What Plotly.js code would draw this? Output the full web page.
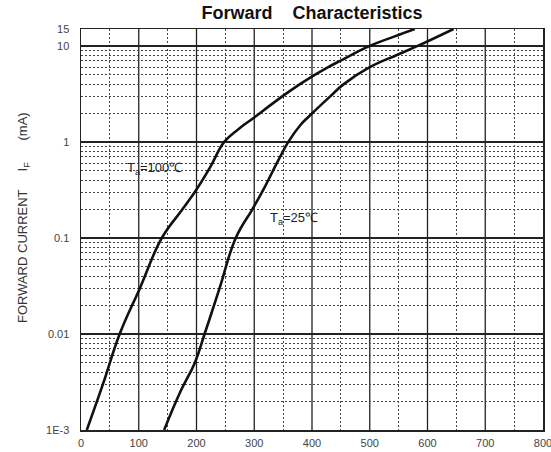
<!DOCTYPE html>
<html>
<head>
<meta charset="utf-8">
<script src="https://cdn.plot.ly/plotly-3.0.1.min.js"></script>
<style>html,body{margin:0;padding:0;background:#fff;}#chart{width:551px;height:452px;}</style>
</head>
<body>
<div id="chart"></div>
<script>
// Forward voltage (mV) and forward current (mA)
var v100 = [10, 38, 67, 102, 140, 176, 200, 224, 248, 272, 300, 335, 362, 390, 428, 449, 500, 542, 578];
var i100 = [0.001, 0.003, 0.01, 0.03, 0.1, 0.2, 0.32, 0.55, 1.0, 1.35, 1.8, 2.6, 3.4, 4.4, 6.0, 7.0, 10, 12.5, 15];
var v25 = [144, 172, 197, 214, 240, 268, 297, 316, 342, 359, 380, 395, 432, 455, 500, 546, 583, 645];
var i25 = [0.001, 0.0025, 0.005, 0.01, 0.03, 0.1, 0.2, 0.32, 0.65, 1.0, 1.5, 1.85, 3.0, 4.0, 6.0, 8.0, 10, 15];

var xTicks = [0, 100, 200, 300, 400, 500, 600, 700, 800];
var xMinor = [50, 150, 250, 350, 450, 550, 650, 750];
var yTickVals = [0.001, 0.01, 0.1, 1, 10, 15];
var yTickText = ['1E-3', '0.01', '0.1', '1', '10', '15'];
var minorMult = [2, 3, 4, 5, 6, 7, 8, 9];
var decades = [0.001, 0.01, 0.1, 1];

var labelText = ['T<sub>a</sub>=100\u2103', 'T<sub>a</sub>=25\u2103'];
var labelV = [77, 324];
var labelI = [0.53, 0.16];

var yMinor = [];
decades.forEach(function(d){ minorMult.forEach(function(m){ yMinor.push(d*m); }); });

var FONT = 'Arial, "Liberation Sans", sans-serif';
var curveLine = {color: '#111', width: 2.6, shape: 'spline', smoothing: 1.2};

var traces = [
  {x: v100, y: i100, type: 'scatter', mode: 'lines', line: curveLine, hoverinfo: 'skip', showlegend: false},
  {x: v25, y: i25, type: 'scatter', mode: 'lines', line: curveLine, hoverinfo: 'skip', showlegend: false}
];

var annotations = labelText.map(function(t, k){
  return {text: t, x: labelV[k], y: Math.log10(labelI[k]), xref: 'x', yref: 'y',
          xanchor: 'left', yanchor: 'middle', showarrow: false,
          font: {family: FONT, size: 13, color: '#222'}};
});
annotations.push({
  text: 'FORWARD CURRENT\u00a0\u00a0\u00a0\u00a0\u00a0I<sub>F</sub>\u00a0\u00a0\u00a0\u00a0\u00a0\u00a0(mA)',
  xref: 'paper', yref: 'paper', x: -0.123, y: 0.529, textangle: -90,
  xanchor: 'center', yanchor: 'middle', showarrow: false,
  font: {family: FONT, size: 13, color: '#333'}
});

// vertical major grid lines at the x tick values, placed through the x axis scale
var shapes = xTicks.slice(1, -1).map(function(v){
  return {type: 'line', xref: 'x', yref: 'paper', x0: v, x1: v, y0: 0, y1: 1,
          line: {color: '#222', width: 1.3}, layer: 'below'};
});

var DOT = '1.5px,2.5px';
var layout = {
  width: 551, height: 452,
  margin: {l: 81, r: 8, t: 29, b: 22},
  paper_bgcolor: '#fff', plot_bgcolor: '#fff',
  font: {family: FONT, color: '#333'},
  title: {text: '<b>Forward\u00a0\u00a0\u00a0\u00a0Characteristics</b>', x: 0.5, xref: 'paper', xanchor: 'center',
          y: 1 - 13/452, yref: 'container', yanchor: 'middle',
          font: {family: FONT, size: 18, color: '#111'}},
  xaxis: {
    range: [0, 800], tickmode: 'array', tickvals: xTicks, ticks: '',
    showgrid: false,
    minor: {tickmode: 'array', tickvals: xMinor, showgrid: true, griddash: DOT, gridcolor: '#444', gridwidth: 1},
    showline: true, mirror: true, linecolor: '#222', linewidth: 1.5, zeroline: false,
    tickfont: {family: FONT, size: 11, color: '#444'}, ticklabelstandoff: 2, ticklabeloverflow: 'allow'
  },
  yaxis: {
    type: 'log', range: [-3, Math.log10(15)], tickmode: 'array', tickvals: yTickVals, ticktext: yTickText, ticks: '',
    showgrid: true, gridcolor: '#222', gridwidth: 1.3,
    minor: {tickmode: 'array', tickvals: yMinor, showgrid: true, griddash: DOT, gridcolor: '#444', gridwidth: 1},
    showline: true, mirror: true, linecolor: '#222', linewidth: 1.5, zeroline: false,
    tickfont: {family: FONT, size: 11, color: '#444'}, ticklabelstandoff: 8, ticklabeloverflow: 'allow'
  },
  shapes: shapes,
  annotations: annotations
};

Plotly.newPlot('chart', traces, layout, {staticPlot: true, displayModeBar: false});
</script>
</body>
</html>
